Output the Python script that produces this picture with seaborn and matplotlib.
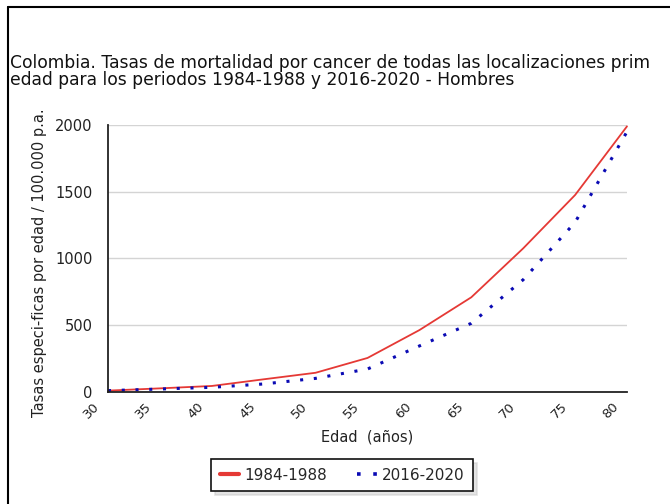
import numpy as np
import pandas as pd
import matplotlib
matplotlib.use("Agg")
import matplotlib.pyplot as plt
import matplotlib.transforms as mtransforms
from matplotlib.ticker import MultipleLocator
import seaborn as sns

# Data
edades = [30, 35, 40, 45, 50, 55, 60, 65, 70, 75, 80]
tasas_1984_1988 = [8, 25, 43, 93, 142, 253, 462, 708, 1075, 1475, 1990]
tasas_2016_2020 = [8, 20, 33, 58, 100, 170, 343, 513, 840, 1270, 1950]
periodos = ["1984-1988", "2016-2020"]

titulo = ("Colombia. Tasas de mortalidad por cancer de todas las localizaciones prim\n"
          "edad para los periodos 1984-1988 y 2016-2020 - Hombres")
etiqueta_y = "Tasas especi-ficas por edad / 100.000 p.a."
etiqueta_x = "Edad  (años)"

df = pd.DataFrame({
    "edad": edades * 2,
    "tasa": tasas_1984_1988 + tasas_2016_2020,
    "periodo": [periodos[0]] * len(edades) + [periodos[1]] * len(edades),
})

sns.set_style("white")
plt.rcParams["font.family"] = ["DejaVu Sans"]

fig = plt.figure(figsize=(6.7, 5.04), dpi=100)
ax = fig.add_axes([108 / 670, 1 - 391.7 / 504, 519 / 670, 266.7 / 504])

rojo = "#e53935"
azul = "#0a0ab4"
d1 = df[df["periodo"] == periodos[0]]
d2 = df[df["periodo"] == periodos[1]]
sns.lineplot(data=d1, x="edad", y="tasa", ax=ax, color=rojo, lw=1.3,
             label=periodos[0], clip_on=False)
sns.lineplot(data=d2, x="edad", y="tasa", ax=ax, color=azul, lw=2.2,
             linestyle=(0, (1, 3.5)), label=periodos[1], clip_on=False)

ax.set_xlim(30, 80)
ax.set_ylim(0, 2000)
ax.set_xticks(edades)
ax.yaxis.set_major_locator(MultipleLocator(500))
ax.yaxis.set_minor_locator(MultipleLocator(100))
ax.grid(axis="y", color="#d4d4d4", lw=1)
ax.set_axisbelow(True)
for s in ["top", "right"]:
    ax.spines[s].set_visible(False)
for s in ["left", "bottom"]:
    ax.spines[s].set_color("#222222")
    ax.spines[s].set_linewidth(1.3)

ax.tick_params(axis="y", which="major", direction="in", length=6, width=1,
               pad=11, labelsize=10.5, colors="#222222")
ax.tick_params(axis="y", which="minor", direction="in", length=5, width=1,
               color="#222222")
ax.tick_params(axis="x", which="major", direction="in", length=7, width=1,
               pad=6, labelsize=9.5, colors="#222222")
off = mtransforms.ScaledTranslation(-4 / 72, 0, fig.dpi_scale_trans)
for lab in ax.get_xticklabels():
    lab.set_rotation(45)
    lab.set_ha("right")
    lab.set_transform(lab.get_transform() + off)

ax.set_xlabel(etiqueta_x, fontsize=10.5, color="#222222", labelpad=6)
ax.set_ylabel("")

fig.text(10 / 670, 1 - 54 / 504, titulo, fontsize=12.3, ha="left", va="top",
         linespacing=0.95, color="#111111")

yl = fig.text(40 / 670, 1 - 417 / 504, etiqueta_y, rotation=90, fontsize=10.5,
              ha="center", va="bottom", color="#222222")
yl.set_clip_box(mtransforms.Bbox.from_extents(0, 0, 670, 504 - 97))
yl.set_clip_on(True)

leg = ax.legend(loc="center", bbox_to_anchor=(342 / 670, 1 - 475 / 504),
                bbox_transform=fig.transFigure, ncol=2, frameon=True,
                fancybox=False, fontsize=11, handlelength=1.3,
                handletextpad=0.3, columnspacing=2.0, borderpad=0.55,
                borderaxespad=0,
                shadow={"ox": 3, "oy": -3, "color": "#c8c8c8"})
leg.get_frame().set_edgecolor("#111111")
leg.get_frame().set_linewidth(1.2)
hs = leg.legend_handles
hs[0].set_linewidth(3)
hs[1].set_linewidth(2.6)

# outer frame of the picture
fig.add_artist(plt.Line2D([8 / 670, 8 / 670], [0, 1 - 7 / 504], color="black",
                          lw=1.5, transform=fig.transFigure))
fig.add_artist(plt.Line2D([8 / 670, 1], [1 - 7 / 504, 1 - 7 / 504],
                          color="black", lw=1.5, transform=fig.transFigure))

fig.savefig("out.png", dpi=100)
